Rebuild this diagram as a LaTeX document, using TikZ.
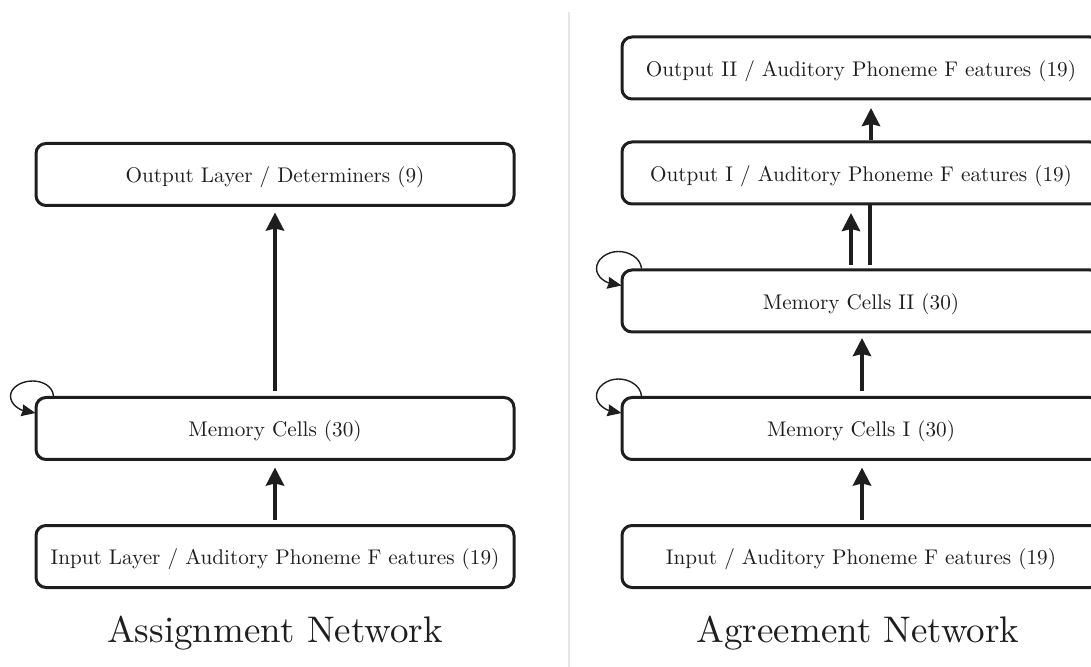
\documentclass[tikz,border=0pt]{standalone}
\usetikzlibrary{arrows.meta}
\definecolor{divgray}{RGB}{230,230,235}
\definecolor{ink}{RGB}{30,30,30}
\begin{document}
\begin{tikzpicture}[x=0.5pt,y=-0.5pt,
  box/.style={draw=ink, line width=1.5pt, rounded corners=5pt, minimum width=239pt,
    minimum height=31pt, inner sep=0pt, text height=10pt, text depth=1.8pt,
    font=\fontsize{10.6}{12.7}\selectfont, text=ink},
  arr/.style={draw=ink, line width=2pt, -{Stealth[length=9pt,width=9pt,inset=1pt]}},
  plainline/.style={draw=ink, line width=2pt},
  selfloop/.style={draw=ink, line width=0.7pt, -{Stealth[length=7pt,width=6pt,inset=0.6pt]}},
  divider/.style={draw=divgray, line width=1pt},
  title/.style={text=ink, anchor=base, inner sep=0pt}
]
\useasboundingbox (0,0) rectangle (1091,667);

% divider
\draw[divider] (569,12) -- (569,667);

% left network
\node[box] (outL) at (275,174.5) {Output Layer / Determiners (9)};
\node[box] (memL) at (275,428.5) {Memory Cells (30)};
\node[box] (inL)  at (275,556.5) {Input Layer / Auditory Phoneme F eatures (19)};
\node[title] (tL) at (275,642) {\scalebox{1.85}{\fontsize{10}{12}\selectfont Assignment Network}};

\draw[arr] ([yshift=2.25pt]memL.north) -- ([yshift=-2.75pt]outL.south);
\draw[arr] ([yshift=2.25pt]inL.north) -- ([yshift=-3.25pt]memL.south);

\begin{scope}[shift={(memL.north west)}]
  \draw[selfloop] (19,0) .. controls (18,-10) and (8,-15) .. (-2,-15)
    .. controls (-14,-15) and (-24,-8) .. (-24,0)
    .. controls (-24,9) and (-14,14) .. (1,17);
\end{scope}

% right network
\node[box] (out2) at (861,68) {Output II / Auditory Phoneme F eatures (19)};
\node[box] (out1) at (861,173) {Output I / Auditory Phoneme F eatures (19)};
\node[box] (mem2) at (861,301) {Memory Cells II (30)};
\node[box] (mem1) at (861,428.5) {Memory Cells I (30)};
\node[box] (inR)  at (861,556.5) {Input / Auditory Phoneme F eatures (19)};
\node[title] (tR) at (858,642) {\scalebox{1.85}{\fontsize{10}{12}\selectfont Agreement Network}};

\draw[arr] ([xshift=5pt]out1.north) -- ([xshift=5pt,yshift=-3.75pt]out2.south);
\draw[arr] ([xshift=-5pt,yshift=1.75pt]mem2.north) -- ([xshift=-5pt,yshift=-3.75pt]out1.south);
\draw[plainline] ([xshift=4.5pt,yshift=1.75pt]mem2.north) -- ([xshift=4.5pt,yshift=0.75pt]out1.south);
\draw[arr] ([xshift=0.5pt,yshift=2.25pt]mem1.north) -- ([xshift=0.5pt,yshift=-2.25pt]mem2.south);
\draw[arr] ([xshift=0.5pt,yshift=2.25pt]inR.north) -- ([xshift=0.5pt,yshift=-3.25pt]mem1.south);

\begin{scope}[shift={(mem2.north west)}]
  \draw[selfloop] (21,0) .. controls (20,-11) and (8,-17) .. (-2,-17)
    .. controls (-14,-17) and (-24,-9) .. (-24,0)
    .. controls (-24,9) and (-14,14) .. (1,17);
\end{scope}
\begin{scope}[shift={(mem1.north west)}]
  \draw[selfloop] (21,0) .. controls (20,-11) and (8,-17) .. (-2,-17)
    .. controls (-14,-17) and (-24,-9) .. (-24,0)
    .. controls (-24,9) and (-14,14) .. (1,17);
\end{scope}
\end{tikzpicture}
\end{document}
